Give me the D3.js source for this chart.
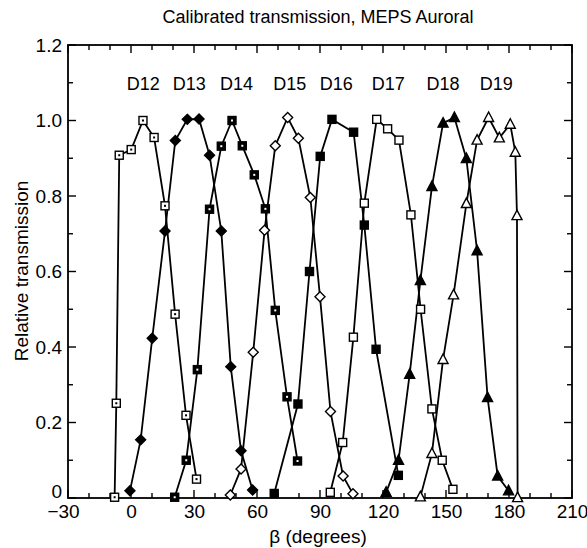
<!DOCTYPE html>
<html><head><meta charset="utf-8">
<script src="https://cdn.jsdelivr.net/npm/d3@7"></script>
<style>body{margin:0;background:#fff}text{font-family:"Liberation Sans",Arial,Helvetica,sans-serif;fill:#000}</style>
</head><body><svg id="c" width="587" height="548"></svg>
<script>
const title = "Calibrated transmission, MEPS Auroral";
const xLabel = "\u03b2 (degrees)";
const yLabel = "Relative transmission";
const xTickLabels = [-30, 0, 30, 60, 90, 120, 150, 180, 210];
const yTickLabels = [0, 0.2, 0.4, 0.6, 0.8, 1.0, 1.2];
const seriesNames = ["D12","D13","D14","D15","D16","D17","D18","D19"];
const seriesMarkers = ["sqDot","diamondFill","sqFillDot","diamondOpen","sqFill","sqOpen","triFill","triOpen"];
const labelX = [5.8, 27.7, 50.3, 75.6, 97.7, 122.5, 148.6, 173.9];

const d12x = [-7.8, -7.0, -5.6, 0.1, 5.7, 11.0, 16.2, 21.0, 26.2, 31.2];
const d12y = [0.002, 0.251, 0.908, 0.923, 1.0, 0.955, 0.774, 0.487, 0.219, 0.05];
const d13x = [-0.5, 4.6, 10.1, 16.2, 21.1, 26.8, 32.4, 37.4, 43.0, 47.5, 52.4, 57.9];
const d13y = [0.019, 0.154, 0.423, 0.707, 0.947, 1.003, 1.004, 0.908, 0.707, 0.348, 0.125, 0.021];
const d14x = [20.8, 26.3, 31.6, 37.4, 43.0, 48.1, 53.0, 58.7, 64.0, 68.7, 74.3, 79.3];
const d14y = [0.002, 0.10, 0.34, 0.765, 0.932, 1.0, 0.933, 0.856, 0.766, 0.497, 0.268, 0.098];
const d15x = [47.3, 52.4, 58.2, 63.6, 68.7, 74.6, 79.7, 85.4, 90.0, 95.0, 101.0, 105.7];
const d15y = [0.008, 0.077, 0.386, 0.709, 0.933, 1.008, 0.953, 0.796, 0.533, 0.229, 0.058, 0.011];
const d16x = [68.2, 79.5, 85.0, 90.1, 95.7, 106.0, 111.1, 116.7, 127.3];
const d16y = [0.012, 0.249, 0.60, 0.905, 1.003, 0.969, 0.723, 0.394, 0.06];
const d17x = [94.9, 100.8, 105.9, 111.1, 117.0, 122.2, 127.6, 133.3, 137.9, 143.3, 148.2, 153.3];
const d17y = [0.015, 0.147, 0.426, 0.781, 1.003, 0.978, 0.948, 0.75, 0.50, 0.236, 0.10, 0.023];
const d18x = [121.5, 127.4, 132.7, 137.8, 143.3, 148.6, 154.0, 159.7, 164.8, 169.8, 174.6, 179.8];
const d18y = [0.015, 0.10, 0.328, 0.576, 0.825, 0.993, 1.008, 0.899, 0.655, 0.266, 0.058, 0.019];
const d19x = [137.8, 143.3, 148.6, 153.6, 159.7, 164.8, 170.3, 175.4, 180.6, 183.0, 183.8, 184.1];
const d19y = [0.003, 0.118, 0.367, 0.538, 0.78, 0.948, 1.008, 0.954, 0.99, 0.916, 0.748, 0.001];
const allX = [d12x,d13x,d14x,d15x,d16x,d17x,d18x,d19x];
const allY = [d12y,d13y,d14y,d15y,d16y,d17y,d18y,d19y];

const svg = d3.select("#c");
const L = 68, R = 572, T = 45, B = 498;
const x = d3.scaleLinear().domain([-30, 210]).range([L, R]);
const y = d3.scaleLinear().domain([0, 1.2]).range([B, T]);

svg.append("text").attr("x", 318).attr("y", 23).attr("text-anchor","middle")
  .style("font-size","18px").text(title);

svg.append("rect").attr("x",L).attr("y",T).attr("width",R-L).attr("height",B-T)
  .attr("fill","none").attr("stroke","#000").attr("stroke-width",1.8);

const xMinor = d3.range(-30, 211, 10);
const yMinor = d3.range(0, 13).map(i => i/10);
const g = svg.append("g").attr("stroke","#000").attr("stroke-width",1.4);
xMinor.forEach(v => {
  const len = xTickLabels.includes(v) ? 8 : 5;
  g.append("line").attr("x1",x(v)).attr("x2",x(v)).attr("y1",B).attr("y2",B-len);
  g.append("line").attr("x1",x(v)).attr("x2",x(v)).attr("y1",T).attr("y2",T+len);
});
yMinor.forEach(v => {
  const major = yTickLabels.some(t => Math.abs(t-v) < 1e-6);
  const len = major ? 8 : 5;
  g.append("line").attr("x1",L).attr("x2",L+len).attr("y1",y(v)).attr("y2",y(v));
  g.append("line").attr("x1",R).attr("x2",R-len).attr("y1",y(v)).attr("y2",y(v));
});

const xAxis = d3.axisBottom(x).tickValues(xTickLabels).tickSize(0).tickPadding(7).tickFormat(d3.format("d"));
const xg = svg.append("g").attr("transform",`translate(0,${B})`).call(xAxis);
xg.select(".domain").remove();
xg.selectAll("text").style("font-size","19px").style("font-family",'"Liberation Sans",Arial,sans-serif').attr("fill","#000");
xg.selectAll(".tick").filter(d => d === -30).select("text").attr("dx","-5");
const yAxis = d3.axisLeft(y).tickValues(yTickLabels).tickSize(0).tickPadding(6)
  .tickFormat(d => d === 0 ? "0" : d3.format(".1f")(d));
const yg = svg.append("g").attr("transform",`translate(${L},0)`).call(yAxis);
yg.select(".domain").remove();
yg.selectAll("text").style("font-size","19px").style("font-family",'"Liberation Sans",Arial,sans-serif').attr("fill","#000");
yg.selectAll(".tick").filter(d => d === 0).select("text").attr("y", -7);

svg.append("text").attr("x", 318).attr("y", 543).attr("text-anchor","middle")
  .style("font-size","19px").text(xLabel);
svg.append("text").attr("transform","translate(28,271) rotate(-90)").attr("text-anchor","middle")
  .style("font-size","19px").text(yLabel);

seriesNames.forEach((n,i) => {
  svg.append("text").attr("x", x(labelX[i])).attr("y", y(1.1)+7).attr("text-anchor","middle")
    .style("font-size","18px").text(n);
});

const line = d3.line().x(d => x(d[0])).y(d => y(d[1]));
const lg = svg.append("g");
allX.forEach((xs,i) => {
  const pts = xs.map((v,j) => [v, allY[i][j]]);
  lg.append("path").attr("d", line(pts)).attr("fill","none").attr("stroke","#000").attr("stroke-width",1.8);
});

function marker(sel, type, px, py) {
  const s = 4;
  if (type.startsWith("sq")) {
    const fill = (type === "sqFill" || type === "sqFillDot") ? "#000" : "#fff";
    sel.append("rect").attr("x",px-s).attr("y",py-s).attr("width",2*s).attr("height",2*s)
      .attr("fill",fill).attr("stroke","#000").attr("stroke-width",1.4);
    if (type === "sqDot") sel.append("rect").attr("x",px-1).attr("y",py-1).attr("width",2).attr("height",2).attr("fill","#000");
    if (type === "sqFillDot") sel.append("rect").attr("x",px-1).attr("y",py-1).attr("width",2).attr("height",2).attr("fill","#fff");
  } else if (type.startsWith("diamond")) {
    const d = 5;
    sel.append("path").attr("d",`M${px},${py-d}L${px+d},${py}L${px},${py+d}L${px-d},${py}Z`)
      .attr("fill", type === "diamondFill" ? "#000" : "#fff").attr("stroke","#000").attr("stroke-width",1.4);
  } else {
    const h = 5;
    sel.append("path").attr("d",`M${px},${py-h-0.5}L${px+h},${py+h-1}L${px-h},${py+h-1}Z`)
      .attr("fill", type === "triFill" ? "#000" : "#fff").attr("stroke","#000").attr("stroke-width",1.4);
  }
}
const mg = svg.append("g");
allX.forEach((xs,i) => {
  xs.forEach((v,j) => marker(mg, seriesMarkers[i], x(v), y(allY[i][j])));
});
</script></body></html>
